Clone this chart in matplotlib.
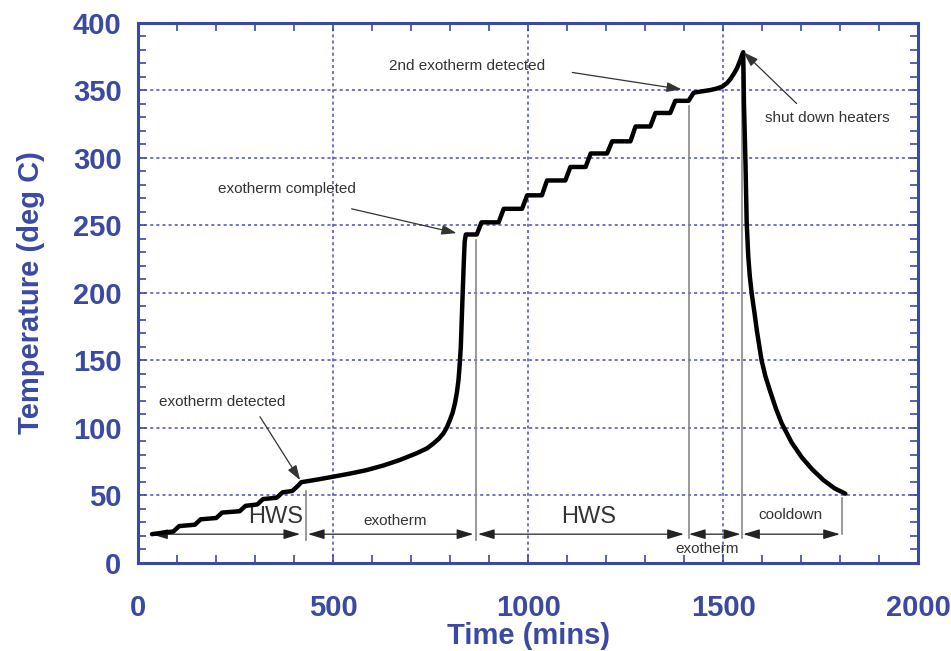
import numpy as np
import matplotlib.pyplot as plt
from matplotlib.ticker import MultipleLocator

plt.rcParams['font.family'] = ['Liberation Sans', 'DejaVu Sans']

# ===============================
# temperature trace, by phase
# ===============================
# heat-wait-search (first)
hws1_time = [35, 60, 90, 105, 145, 160, 200, 215, 260, 275, 305, 320, 355, 370, 395, 410, 418]
hws1_temp = [21, 22, 23, 27, 28, 32, 33, 37, 38, 42, 43, 47, 48, 52, 53, 57, 59.5]

# first exotherm
exo1_time = [460, 500, 545, 586, 630, 671, 714, 740, 756, 770, 782, 791, 799, 806,
             812, 817, 821, 824, 827, 830, 833, 835, 837, 840]
exo1_temp = [61.5, 63.6, 66, 68.5, 72, 76, 81, 84.5, 88, 91.5, 95.5, 100, 105.5, 111,
             118, 126, 135, 146, 160, 185, 209, 225, 238, 243]

# heat-wait-search (second)
hws2_time = [862, 868, 880, 924, 937, 984, 997, 1035, 1048, 1095, 1108, 1147, 1160,
             1202, 1215, 1262, 1275, 1313, 1326, 1364, 1377, 1411]
hws2_temp = [243, 243, 252, 252, 262, 262, 272, 272, 283, 283, 293, 293, 303,
             303, 312, 312, 323, 323, 333, 333, 342, 342]

# second exotherm
exo2_time = [1424, 1445, 1467, 1482, 1497, 1509, 1518, 1527, 1535, 1542, 1547, 1551]
exo2_temp = [348, 349, 350, 351, 352.5, 355, 358, 362, 366, 371, 375, 378]

# cooldown
cool_time = [1552, 1553, 1555, 1557, 1560, 1564, 1568, 1573, 1580, 1586, 1598, 1608,
             1620, 1635, 1650, 1675, 1701, 1728, 1757, 1785, 1813]
cool_temp = [362, 340, 318, 295, 252, 227, 212, 199, 185, 172, 150, 138,
             127, 114, 103, 89, 78, 69, 61, 55, 51]

time = np.concatenate([hws1_time, exo1_time, hws2_time, exo2_time, cool_time])
temp = np.concatenate([hws1_temp, exo1_temp, hws2_temp, exo2_temp, cool_temp])

# phase boundaries (x, top, bottom) and dimension arrows (start, end)
bounds = [(429, 53, 17), (865, 239, 17), (1411, 338, 18), (1548, 376, 18), (1804, 48, 21)]
spans = [(33, 415), (435, 859), (871, 1399), (1412, 1544), (1551, 1799)]

BLUE = '#3A4AA3'
GREY_TXT = '#333333'

fig = plt.figure(figsize=(9.51, 6.51), dpi=100)
ax = fig.add_axes([0.1454, 0.1359, 0.8202, 0.8295])

ax.plot(time, temp, color='black', lw=3.2, solid_joinstyle='round',
        solid_capstyle='round', zorder=5)

# phase boundary lines
for x, top, bot in bounds:
    ax.plot([x, x], [bot, top], color='#888888', lw=1.2, zorder=3)

# dimension arrows along the bottom
for x0, x1 in spans:
    ax.annotate('', xy=(x1, 21), xytext=(x0, 21),
                arrowprops=dict(arrowstyle='<|-|>,head_length=1.0,head_width=0.3',
                                color='#222222', lw=0.9, shrinkA=0, shrinkB=0),
                zorder=4)

ax.text(351, 34, 'HWS', ha='center', va='center', fontsize=17, color=GREY_TXT)
ax.text(658, 31, 'exotherm', ha='center', va='center', fontsize=11, color=GREY_TXT)
ax.text(1154, 34, 'HWS', ha='center', va='center', fontsize=17, color=GREY_TXT)
ax.text(1458, 10, 'exotherm', ha='center', va='center', fontsize=11, color=GREY_TXT)
ax.text(1671, 35, 'cooldown', ha='center', va='center', fontsize=11, color=GREY_TXT)

# event callouts
notes = [
    ('exotherm detected', (216, 119), (312, 108), (415, 61)),
    ('exotherm completed', (381, 277), (547, 262), (816, 244)),
    ('2nd exotherm detected', (843, 368), (1113, 363), (1393, 350.5)),
    ('shut down heaters', (1768, 329), (1688, 340), (1552, 378)),
]
for label, txt_xy, tail, tip in notes:
    ax.text(*txt_xy, label, ha='center', va='center', fontsize=11, color=GREY_TXT)
    ax.annotate('', xy=tip, xytext=tail,
                arrowprops=dict(arrowstyle='-|>,head_length=0.9,head_width=0.3',
                                color='#333333', lw=0.9, shrinkA=0, shrinkB=0),
                zorder=6)

# axes
ax.set_xlim(0, 2000)
ax.set_ylim(0, 400)
ax.xaxis.set_major_locator(MultipleLocator(500))
ax.xaxis.set_minor_locator(MultipleLocator(100))
ax.yaxis.set_major_locator(MultipleLocator(50))
ax.yaxis.set_minor_locator(MultipleLocator(10))

ax.grid(True, which='major', color='#4C4CC0', linestyle=(0, (2, 2)), lw=1.1)
ax.set_axisbelow(True)

for s in ax.spines.values():
    s.set_color(BLUE)
    s.set_linewidth(2.2)

ax.tick_params(which='both', direction='in', top=True, right=True,
               color=BLUE, width=1.2, length=6, labelcolor=BLUE, labelsize=21)
ax.tick_params(axis='x', pad=23)
ax.tick_params(axis='y', pad=12)
for lab in ax.get_xticklabels() + ax.get_yticklabels():
    lab.set_fontweight('bold')

ax.set_xlabel('Time (mins)', fontsize=21, fontweight='bold', color=BLUE, labelpad=0)
ax.set_ylabel('Temperature (deg C)', fontsize=21, fontweight='bold', color=BLUE, labelpad=20)

fig.savefig('out.png', dpi=100)
